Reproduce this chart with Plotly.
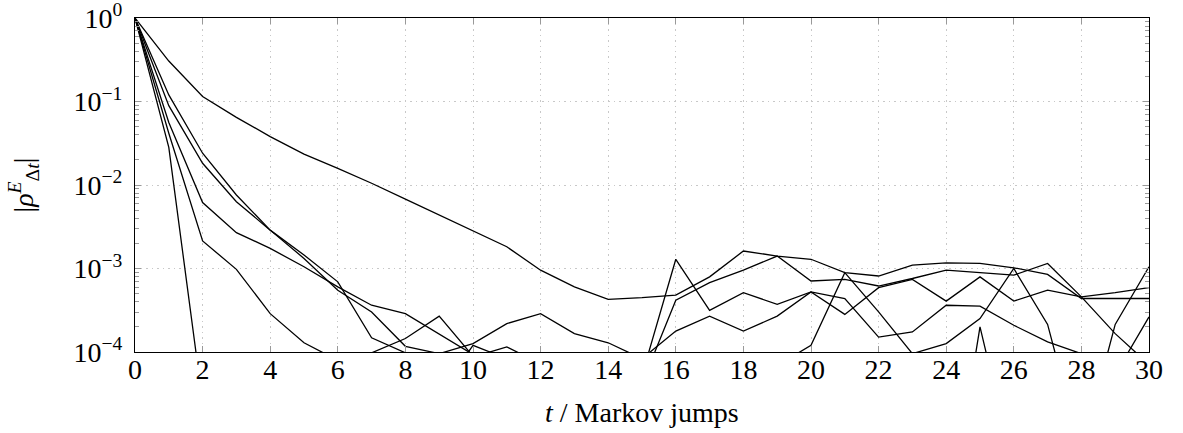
import plotly.graph_objects as go

t = list(range(31))

series_a = [1, 0.305, 0.115, 0.0646, 0.038, 0.0234, 0.0158, 0.0105, 0.00676, 0.00437, 0.00288,
            0.00182, 9.55e-4, 6.03e-4, 4.27e-4, 4.47e-4, 4.79e-4, 7.94e-4, 1.62e-3, 1.41e-3, 1.29e-3,
            8.91e-4, 8.13e-4, 1.10e-3, 1.17e-3, 1.15e-3, 1.02e-3, 8.51e-4, 4.37e-4, 4.37e-4, 4.37e-4]
series_b = [1, 0.0891, 0.0182, 0.00631, 0.00288, 0.00145, 6.92e-4, 1.48e-4, 9.77e-5, 3.16e-5, 1.20e-4,
            8.32e-5, 2.5e-5, 1e-5, 1e-5, 5.25e-5, 1.29e-3, 3.16e-4, 5.13e-4, 3.72e-4, 5.25e-4,
            2.82e-4, 5.89e-4, 7.41e-4, 4.07e-4, 7.94e-4, 4.07e-4, 5.50e-4, 4.57e-4, 5.13e-4, 5.89e-4]
series_c = [1, 0.120, 0.024, 0.00759, 0.00288, 0.00132, 5.50e-4, 3.02e-4, 1.17e-4, 9.55e-5, 1.26e-4,
            2.19e-4, 2.88e-4, 1.66e-4, 1.29e-4, 8.32e-5, 1.78e-4, 2.69e-4, 1.78e-4, 2.69e-4, 5.25e-4,
            4.37e-4, 1.51e-4, 1.74e-4, 3.63e-4, 3.55e-4, 2.09e-4, 1.32e-4, 9.55e-5, 5.37e-5, 2.63e-4]
series_d = [1, 0.0562, 0.00617, 0.00269, 0.00174, 0.00105, 6.03e-4, 3.63e-4, 2.88e-4, 1.66e-4, 9.33e-5,
            3.16e-5, 1.6e-5, 1e-5, 1e-5, 4.17e-5, 4.17e-4, 6.76e-4, 9.55e-4, 1.41e-3, 7.08e-4,
            7.41e-4, 6.17e-4, 7.59e-4, 9.55e-4, 8.91e-4, 8.32e-4, 1.15e-3, 4.57e-4, 1.66e-4, 7.08e-5]
series_e = [1, 0.0417, 0.00214, 9.77e-4, 2.88e-4, 1.29e-4, 7.94e-5, 9.77e-5, 1.45e-4, 2.69e-4, 8.91e-5,
            3.98e-5, 1.6e-5, 1e-5, 1e-5, 1e-5, 1e-5, 1e-5, 3.16e-5, 6.92e-5, 1.20e-4,
            8.91e-4, 3.02e-4, 9.55e-5, 1.26e-4, 2.51e-4, 1.0e-3, 2.14e-4, 6.3e-6, 2.14e-4, 1.05e-3]
series_f = [1, 0.0282, 2.5e-5, 3e-6, 1e-6, 1e-6, 1e-6, 1e-6, 1e-6, 1e-5, 8.71e-5,
            1.15e-4, 7.24e-5, 1e-5, 1e-6, 1e-6, 1e-6, 1e-6, 1e-6, 1e-6, 1e-6,
            1e-6, 1e-6, 1e-6, 6.3e-7, 2.0e-4, 4e-6, 1e-6, 1e-6, 1e-6, 1e-6]

y_tick_vals = [1e-4, 1e-3, 1e-2, 1e-1, 1]
y_tick_text = ["10<sup>−4</sup>", "10<sup>−3</sup>", "10<sup>−2</sup>", "10<sup>−1</sup>", "10<sup>0</sup>"]
y_minor_vals = [k * 10.0 ** e for e in range(-4, 0) for k in range(2, 10)]

fig = go.Figure()
for s in [series_a, series_b, series_c, series_d, series_e, series_f]:
    fig.add_trace(go.Scatter(x=t, y=s, mode="lines",
                             line=dict(color="black", width=1.3), showlegend=False,
                             hoverinfo="skip"))

font_family = "Liberation Serif"

fig.update_layout(
    width=1183, height=433,
    margin=dict(l=135, r=34, t=18, b=81, autoexpand=False),
    paper_bgcolor="white", plot_bgcolor="white",
    font=dict(family=font_family, size=28, color="black"),
    xaxis=dict(range=[0, 30], dtick=2, tick0=0, ticks="inside", ticklen=6,
               tickcolor="#999999", tickwidth=1, automargin=False,
               showline=True, linecolor="black", linewidth=1.2, mirror="allticks",
               showgrid=True, gridcolor="#c8c8c8", griddash="1.5px,4px", gridwidth=1.2,
               zeroline=False, tickfont=dict(size=28, family=font_family),
               ticklabelstandoff=-8, ticklabeloverflow="allow"),
    yaxis=dict(type="log", range=[-4, 0], tickmode="array", tickvals=y_tick_vals,
               ticktext=y_tick_text, ticks="inside", ticklen=6, tickcolor="#999999",
               automargin=False,
               showline=True, linecolor="black", linewidth=1.2, mirror="allticks",
               showgrid=True, gridcolor="#c8c8c8", griddash="1.5px,4px", gridwidth=1.2,
               zeroline=False, tickfont=dict(size=28, family=font_family),
               ticklabelstandoff=6, ticklabeloverflow="allow",
               minor=dict(tickmode="array", tickvals=y_minor_vals, ticks="inside",
                          ticklen=4, tickcolor="#999999", showgrid=False)),
)

fig.add_annotation(text="<i>t</i> / Markov jumps", xref="paper", yref="paper",
                   x=0.5, y=-0.18, xanchor="center", yanchor="middle",
                   showarrow=False, font=dict(size=28, family=font_family))
fig.add_annotation(text="|<i>ρ</i><sup><i>E</i></sup><sub>Δ<i>t</i></sub>|",
                   xref="paper", yref="paper", x=-0.11, y=0.5,
                   xanchor="center", yanchor="middle", textangle=-90,
                   showarrow=False, font=dict(size=28, family=font_family))

fig.write_html("out.html")
